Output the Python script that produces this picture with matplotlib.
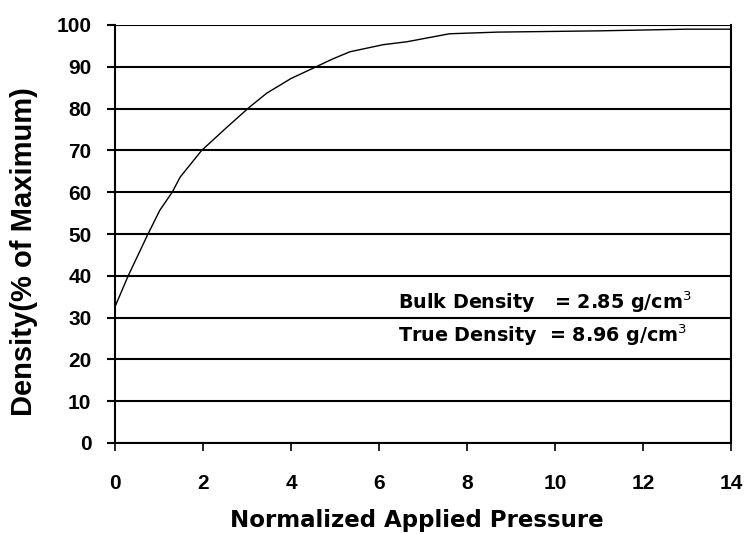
import matplotlib
matplotlib.use("Agg")
import matplotlib.pyplot as plt

pressure = [0.0, 0.3, 0.75, 1.02, 1.3, 1.48, 1.97, 2.55, 3.05, 3.45, 4.0, 4.55, 4.93, 5.34, 6.1, 6.64, 7.6, 8.7, 11.0, 13.0, 14.0]
density = [32.6, 40.0, 50.0, 55.7, 60.0, 63.6, 70.0, 75.6, 80.3, 83.7, 87.2, 89.9, 91.8, 93.6, 95.3, 96.0, 97.9, 98.3, 98.6, 99.0, 99.0]

x_ticks = [0, 2, 4, 6, 8, 10, 12, 14]
y_ticks = [0, 10, 20, 30, 40, 50, 60, 70, 80, 90, 100]

plt.rcParams['font.family'] = ['Liberation Sans', 'DejaVu Sans']

fig = plt.figure(figsize=(7.44, 5.34), dpi=100)
ax = fig.add_axes([115/744, 1-443/534, (731-115)/744, (443-25)/534])

ax.plot(pressure, density, color='black', lw=1.0)
ax.set_xlim(0, 14)
ax.set_ylim(0, 100)
ax.set_xticks(x_ticks)
ax.set_yticks(y_ticks)
for v in y_ticks:
    ax.axhline(v, color='black', lw=1.5, zorder=0)

for s in ['left', 'right', 'bottom']:
    ax.spines[s].set_linewidth(1.5)
ax.spines['top'].set_visible(False)

ax.tick_params(axis='y', length=6, width=1.5, pad=11, labelsize=15)
ax.tick_params(axis='x', length=6, width=1.2, pad=16, labelsize=15)
for lab in ax.get_xticklabels() + ax.get_yticklabels():
    lab.set_fontweight('bold')

fig.text(24/744, 1-252/534, 'Density(% of Maximum)', fontsize=21, fontweight='bold',
         rotation=90, ha='center', va='center')
fig.text(417/744, 1-520/534, 'Normalized Applied Pressure', fontsize=16.5, fontweight='bold',
         family='DejaVu Sans', ha='center', va='center')

ax.text(6.43, 33.7, 'Bulk Density   = 2.85 g/cm$^3$', fontsize=13.8, fontweight='bold',
        family='DejaVu Sans', va='center', ha='left')
ax.text(6.43, 25.8, 'True Density  = 8.96 g/cm$^3$', fontsize=13.8, fontweight='bold',
        family='DejaVu Sans', va='center', ha='left')

fig.savefig('out.png', dpi=100)
